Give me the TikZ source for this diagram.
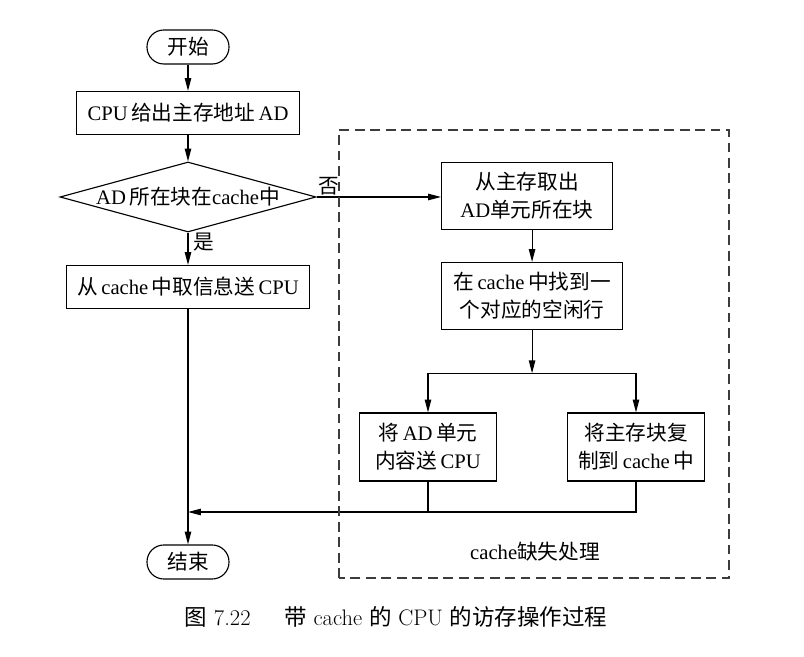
\documentclass[tikz,border=0pt]{standalone}
\usepackage{fontspec}
\newfontfamily\tnr{Liberation Serif}
\newfontfamily\cjk{Noto Sans CJK SC}
\newcommand{\zh}[1]{{\cjk #1}}
\usetikzlibrary{arrows.meta,positioning,shapes.geometric}
\definecolor{mDash}{RGB}{60,60,60}

\begin{document}
\begin{tikzpicture}[font=\tnr\fontsize{14.7}{20}\selectfont, line width=0.8pt,
    box/.style={draw, rectangle, align=center, inner sep=0pt, minimum height=1.075cm},
    term/.style={draw, rounded corners=0.42cm, minimum width=2.05cm, minimum height=0.85cm},
    decide/.style={draw, diamond, aspect=3.66, inner sep=0pt, minimum width=6.4cm, minimum height=1.75cm},
    arr/.style={-{Triangle[length=3.2mm,width=1.6mm]}},
    missbox/.style={draw=mDash, dash pattern=on 7pt off 4pt}]
    \useasboundingbox (0,0) rectangle (20.1,16.4);
    % Main column
    \node[term] (start) at (4.7,15.225) {\zh{开始}};
    \node[box, minimum width=5.575cm] (addr) at (4.7,13.575) {CPU\,\zh{给出主存地址}\,AD};
    \node[decide] (hit) at (4.7,11.475) {AD\,\zh{所在块在}cache\zh{中}};
    \node[box, minimum width=6.075cm] (read) at (4.7,9.225) {\zh{从}\,cache\,\zh{中取信息送}\,CPU};
    \node[term] (stop) at (4.7,2.35) {\zh{结束}};
    % Miss handling
    \node[box, minimum width=4.275cm, minimum height=1.675cm, anchor=west] (fetch) at (11.025,11.5)
      {\zh{从主存取出}\\AD\zh{单元所在块}};
    \node[box, minimum width=4.525cm, minimum height=1.675cm, anchor=west] (findln) at (11.025,9.0)
      {\zh{在}\,cache\,\zh{中找到一}\\\zh{个对应的空闲行}};
    \node[box, minimum width=3.425cm, minimum height=1.7cm] (send) at (10.7,5.225)
      {\zh{将}\,AD\,\zh{单元}\\\zh{内容送}\,CPU};
    \node[box, minimum width=3.425cm, minimum height=1.7cm] (copy) at (15.9,5.225)
      {\zh{将主存块复}\\\zh{制到}\,cache\,\zh{中}};
    \coordinate[below=1.08cm of findln.south] (split);
    \coordinate (merge) at (4.7,3.6);
    % Connectors
    \draw[arr] (start) -- (addr);
    \draw[arr] (addr) -- (hit);
    \draw[arr] (hit.south) -- node[right, pos=0.3] {\zh{是}} (read.north);
    \draw[arr] (hit.east) -- node[pos=0.0, above right, inner sep=1pt] {\zh{否}} (hit.east -| fetch.west);
    \draw[arr] (fetch.south -| findln.north) -- (findln.north);
    \draw[arr] (findln.south) -- (split);
    \draw[arr] (split) -| (send.north);
    \draw[arr] (split) -| (copy.north);
    \draw (send.south) -- (send.south |- merge);
    \draw[arr] (copy.south) |- (merge);
    \draw[arr] (read) -- (stop);
    % Dashed frame
    \draw[missbox] (8.475,1.95) rectangle (18.225,13.15);
    \node (misslbl) at (13.375,2.6) {cache\zh{缺失处理}};
    % Caption
    \node[font=\fontsize{16}{19}\selectfont] (caption) at (9.9,0.975)
      {\zh{图}~7.22\hspace{1.5em}\zh{带}~cache~\zh{的}~CPU~\zh{的访存操作过程}};
\end{tikzpicture}
\end{document}
